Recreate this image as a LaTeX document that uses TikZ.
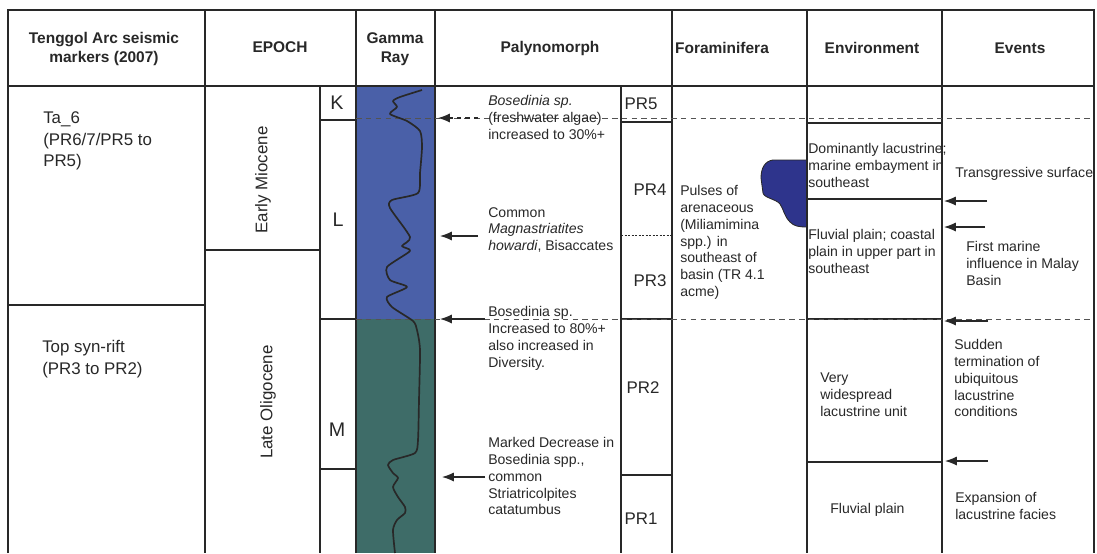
\documentclass[tikz,border=0pt]{standalone}
\usepackage{fontspec}
\setmainfont{Liberation Sans}
\usetikzlibrary{arrows.meta}
\definecolor{ink}{RGB}{40,40,40}
\definecolor{GammaBlue}{RGB}{74,96,168}
\definecolor{GammaGreen}{RGB}{62,108,104}
\definecolor{ForamBlue}{RGB}{46,52,140}

\begin{document}
\begin{tikzpicture}[x=0.025cm,y=-0.025cm,
  rule/.style={draw=ink,line width=0.75pt},
  horizon/.style={draw=ink!80,line width=0.5pt,dash pattern=on 4pt off 3pt},
  ptr/.style={-{Latex[length=8.5pt,width=6.5pt]},draw=ink,line width=0.8pt},
  hdr/.style={font=\bfseries\fontsize{11}{13.5}\selectfont,text=ink,align=center},
  note/.style={font=\fontsize{10}{12}\selectfont,text=ink,align=left,
               anchor=north west,inner sep=0pt},
  seis/.style={font=\fontsize{12}{15.6}\selectfont,text=ink,align=left,
               anchor=north west,inner sep=0pt},
  epoch/.style={font=\fontsize{12}{14}\selectfont,text=ink,rotate=90},
  zone/.style={font=\fontsize{14}{16}\selectfont,text=ink},
  pr/.style={font=\fontsize{12}{14}\selectfont,text=ink}]
  \useasboundingbox[fill=white] (0,0) rectangle (1097,553);

  \fill[GammaBlue] (356,86) rectangle (435,319);
  \fill[GammaGreen] (356,319) rectangle (435,553);
  \fill[ForamBlue,draw=ink,line width=0.6pt] (807,160) -- (773,160)
    .. controls (765,161) and (761,168) .. (761,178) -- (763,193)
    .. controls (764,198) and (776,199) .. (780,204)
    .. controls (784,210) and (784,216) .. (790,222)
    .. controls (794,226) and (798,227) .. (807,227) -- cycle;

  \draw[rule] (8,553) -- (8,10) -- (1094,10) -- (1094,553);
  \draw[rule] (8,86) -- (1094,86);
  \foreach \x in {205,356,435,672,807,942} \draw[rule] (\x,10) -- (\x,553);
  \draw[rule] (320,86) -- (320,553);
  \draw[rule] (621,86) -- (621,553);
  \draw[rule] (8,305) -- (205,305);
  \draw[rule] (205,250) -- (320,250);
  \foreach \y in {120,319,469} \draw[rule] (320,\y) -- (356,\y);
  \foreach \y in {122,319,475} \draw[rule] (621,\y) -- (672,\y);
  \draw[rule,line width=0.4pt,dash pattern=on 1.5pt off 1pt] (621,235) -- (672,235);
  \foreach \y in {123,199,319,462} \draw[rule] (807,\y) -- (942,\y);
  \draw[horizon] (356,118) -- (1094,118);
  \draw[horizon] (356,319) -- (1094,319);

  \draw[ink,line width=1.2pt,line join=round] plot[smooth,tension=0.4] coordinates {
    (422,90) (400,97) (393,101) (397,107) (390,114) (407,121) (420,131)
    (422,147) (420,173) (418,193) (392,200) (390,208) (410,237) (402,246)
    (410,251) (387,267) (390,280) (407,287) (387,297) (392,307) (413,321)
    (417,330) (420,350) (419,400) (418,440) (415,453) (393,460) (388,465)
    (393,473) (398,478) (393,487) (398,497) (405,507) (405,513) (397,520)
    (393,530) (395,553)};

  \node[hdr] (hseis) at (104,49) {Tenggol Arc seismic\\markers (2007)};
  \node[hdr] (hepoch) at (280,47) {EPOCH};
  \node[hdr] (hgamma) at (395,49) {Gamma\\Ray};
  \node[hdr] (hpaly) at (550,48) {Palynomorph};
  \node[hdr] (hforam) at (722,48) {Foraminifera};
  \node[hdr] (henv) at (872,48) {Environment};
  \node[hdr] (hevent) at (1020,48) {Events};

  \node[seis] (ta6) at (43,111) {Ta\_6\\(PR6/7/PR5 to\\PR5)};
  \node[seis] (synrift) at (42,340) {Top syn-rift\\(PR3 to PR2)};
  \node[epoch] (emio) at (263,180) {Early Miocene};
  \node[epoch] (lolig) at (268,402) {Late Oligocene};

  \node[zone] (zk) at (337,103) {K};
  \node[zone] (zl) at (338,220) {L};
  \node[zone] (zm) at (337,430) {M};
  \node[pr] (pr5) at (641,104) {PR5};
  \node[pr] (pr4) at (650,190) {PR4};
  \node[pr] (pr3) at (650,281) {PR3};
  \node[pr] (pr2) at (643,388) {PR2};
  \node[pr] (pr1) at (641,519) {PR1};

  \node[note] (p30) at (488,95)
    {\textit{Bosedinia sp.}\\(freshwater algae)\\increased to 30\%+};
  \node[note] (pmag) at (488,207)
    {Common\\\textit{Magnastriatites}\\\textit{howardi}, Bisaccates};
  \node[note] (p80) at (488,306)
    {Bosedinia sp.\\Increased to 80\%+\\also increased in\\Diversity.};
  \node[note] (pdec) at (488,437)
    {Marked Decrease in\\Bosedinia spp.,\\common\\Striatricolpites\\catatumbus};
  \node[note] (pulse) at (680,185)
    {Pulses of\\arenaceous\\(Miliamimina\\spp.) in\\southeast of\\basin (TR 4.1\\acme)};
  \node[note] (emb) at (808,143)
    {Dominantly lacustrine;\\marine embayment in\\southeast};
  \node[note] (fluv) at (808,229)
    {Fluvial plain; coastal\\plain in upper part in\\southeast};
  \node[note] (lacu) at (820,373) {Very\\widespread\\lacustrine unit};
  \node[note] (fplain) at (830,503) {Fluvial plain};
  \node[note] (trans) at (955,167) {Transgressive surface};
  \node[note] (first) at (966,241) {First marine\\influence in Malay\\Basin};
  \node[note] (sudden) at (954,339)
    {Sudden\\termination of\\ubiquitous\\lacustrine\\conditions};
  \node[note] (expan) at (955,492) {Expansion of\\lacustrine facies};

  \coordinate (t1) at (478,118); \coordinate (g1) at (438,118);
  \coordinate (t2) at (478,236); \coordinate (g2) at (440,236);
  \coordinate (t3) at (485,319); \coordinate (g3) at (440,319);
  \coordinate (t4) at (485,477); \coordinate (g4) at (442,477);
  \coordinate (t5) at (987,201); \coordinate (g5) at (944,201);
  \coordinate (t6) at (985,227); \coordinate (g6) at (944,227);
  \coordinate (t7) at (988,321); \coordinate (g7) at (944,321);
  \coordinate (t8) at (988,461); \coordinate (g8) at (945,461);
  \draw[ptr,dashed] (t1) -- (g1);
  \foreach \i in {2,...,8} \draw[ptr] (t\i) -- (g\i);
\end{tikzpicture}
\end{document}
